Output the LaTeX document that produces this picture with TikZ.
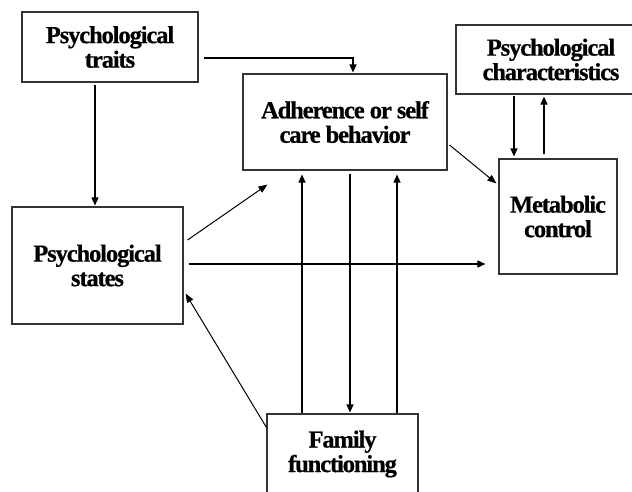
\documentclass[tikz,border=0pt]{standalone}
\usepackage{fontspec}
\setmainfont{Liberation Serif}[LetterSpace=-4.5,FakeBold=0.6]
\usetikzlibrary{arrows.meta,calc}
\begin{document}
\begin{tikzpicture}[x=1pt,y=-1pt,
  box/.style={draw=black!80,line width=1.1pt,inner sep=0pt,align=center,
    font=\fontsize{24.5}{24.5}\selectfont\bfseries},
  arr/.style={line width=1.4pt,-{Triangle[length=8pt,width=7pt]}},
  darr/.style={line width=1pt,-{Triangle[length=9pt,width=7pt]}}]
\useasboundingbox (0,0) rectangle (632,492);
\clip (0,0) rectangle (632,492);
\fill[white] (0,0) rectangle (632,492);
\node[box,minimum width=176pt,minimum height=70pt] (traits) at (110,47) {Psychological\\traits};
\node[box,minimum width=204pt,minimum height=96pt] (adh) at (345,122) {Adherence or self\\care behavior};
\node[box,minimum width=190pt,minimum height=69pt] (chars) at (551,59.5) {Psychological\\characteristics};
\node[box,minimum width=118pt,minimum height=115pt] (metab) at (558,216.5) {Metabolic\\control};
\node[box,minimum width=171pt,minimum height=117pt] (states) at (97.5,265.5) {Psychological\\states};
\node[box,minimum width=151pt,minimum height=80pt] (family) at (342.5,454) {Family\\functioning};
% connectors
\draw[arr] ($(traits.east)+(5,11)$) -| ($(adh.north)+(8,-1)$);
\draw[arr] ($(traits.south)+(-15,2)$) -- ($(states.north)+(-2.5,-1)$);
\draw[darr] ($(states.east)+(4,-25.5)$) -- ($(adh.south west)+(25,14)$);
\draw[arr] ($(states.east)+(5,-1.5)$) -- ($(metab.west)+(-13,47.5)$);
\draw[darr] ($(family.north west)+(0,14)$) -- ($(states.south east)+(2,-31)$);
\draw[arr] ($(family.north)+(-40.5,0)$) -- ($(adh.south)+(-43,4)$);
\draw[arr] ($(adh.south)+(5,3)$) -- ($(family.north)+(7.5,-1)$);
\draw[arr] ($(family.north)+(54.5,0)$) -- ($(adh.south)+(52,4)$);
\draw[darr] ($(adh.east)+(2,23)$) -- ($(metab.north west)+(-2,25)$);
\draw[arr] ($(chars.south)+(-37,1)$) -- ($(metab.north)+(-44,-2)$);
\draw[arr] ($(metab.north)+(-14,-4)$) -- ($(chars.south)+(-7,2)$);
\end{tikzpicture}
\end{document}
